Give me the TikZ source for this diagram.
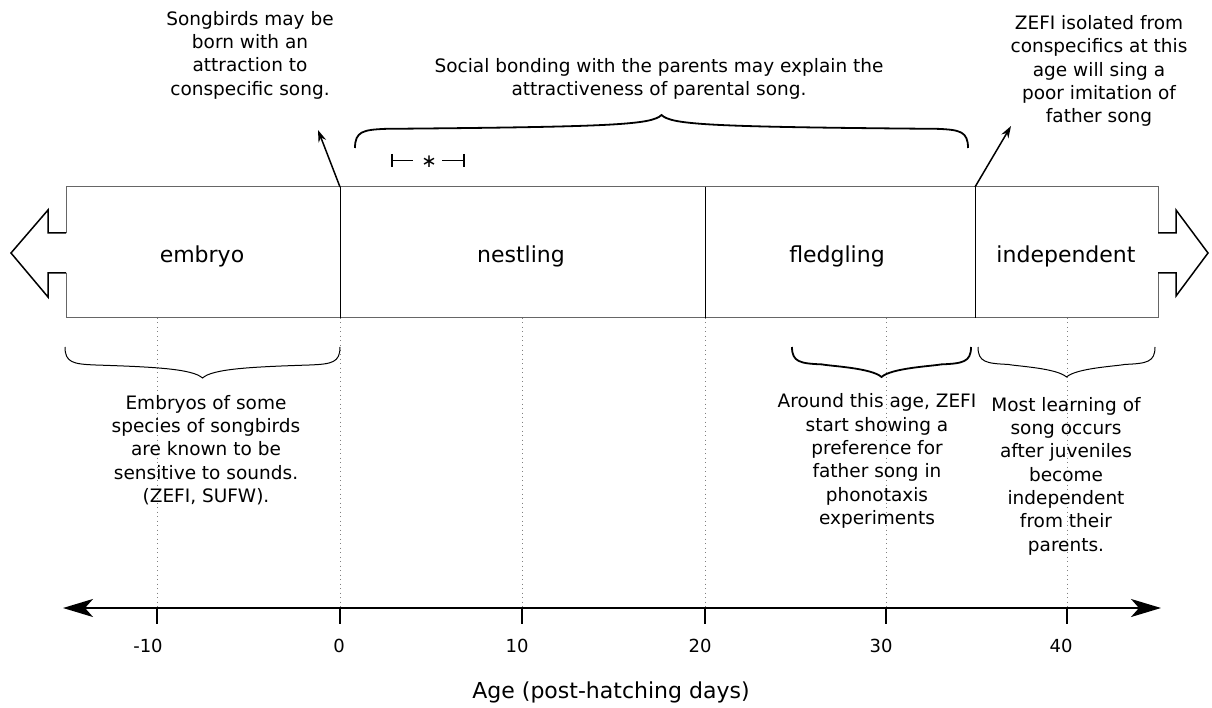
\documentclass[tikz,border=0pt]{standalone}
\usepackage{fontspec}
\setmainfont{DejaVu Sans}
\usetikzlibrary{arrows.meta,calc}

% curly brace: #1 style, #2 xa, #3 xb, #4 y of ends, #5 y of tip
\newcommand\cbrace[5][]{%
 \draw[#1] (#2,#4) .. controls (#2,{#4+0.5*(#5-#4)}) and ({#2+8},{#4+0.55*(#5-#4)}) .. ({#2+30},{#4+0.58*(#5-#4)})
   .. controls ({(#2+#3)/2-50},{#4+0.64*(#5-#4)}) and ({(#2+#3)/2-10},{#4+0.7*(#5-#4)}) .. ({(#2+#3)/2},#5)
   .. controls ({(#2+#3)/2+10},{#4+0.7*(#5-#4)}) and ({(#2+#3)/2+50},{#4+0.64*(#5-#4)}) .. ({#3-30},{#4+0.58*(#5-#4)})
   .. controls ({#3-8},{#4+0.55*(#5-#4)}) and (#3,{#4+0.5*(#5-#4)}) .. (#3,#4);}

\begin{document}
\begin{tikzpicture}[x=1pt,y=-1pt,
  stage/.style={rectangle, minimum height=131pt, inner sep=0pt, outer sep=0pt, fill=white},
  stagelbl/.style={font=\fontsize{22}{26}\selectfont, anchor=base, inner sep=0pt},
  ann/.style={font=\fontsize{18.5}{23.3}\selectfont, align=center, inner sep=0pt},
  num/.style={font=\fontsize{18}{22}\selectfont, inner sep=0pt},
  boxline/.style={draw=black!60, line width=1pt},
  divider/.style={draw=black, line width=1pt},
  arrowshape/.style={draw=black, line width=1.5pt},
  annarrow/.style={draw=black, line width=1.5pt, -{Stealth[length=12pt,width=8pt]}},
  bracethick/.style={draw=black, line width=1.8pt},
  bracethin/.style={draw=black, line width=1pt},
  axisline/.style={draw=black, line width=2pt, {Stealth[length=30pt,width=18pt,inset=8pt]}-{Stealth[length=30pt,width=18pt,inset=8pt]}},
  tickline/.style={draw=black, line width=2pt},
  guide/.style={draw=black!50, line width=1pt, dash pattern=on 1pt off 3.5pt},
  rangebar/.style={draw=black, line width=1.3pt}
]
\useasboundingbox[fill=white] (0,0) rectangle (1212,708);

% stage boxes
\node[stage, minimum width=274pt] (embryo) at (203,252.5) {};
\node[stage, minimum width=365pt] (nestling) at (522.5,252.5) {};
\node[stage, minimum width=270pt] (fledgling) at (840,252.5) {};
\node[stage, minimum width=183pt] (independent) at (1066.5,252.5) {};

% outline
\draw[boxline] (66,233) -- (66,187) -- (1158,187) -- (1158,233);
\draw[boxline] (1158,273) -- (1158,318) -- (66,318) -- (66,273);
\draw[arrowshape] (66,233) -- (48,233) -- (48,210) -- (11,253) -- (48,297) -- (48,273) -- (66,273);
\draw[arrowshape] (1158,233) -- (1176,233) -- (1176,210) -- (1208,253) -- (1176,296) -- (1176,273) -- (1158,273);

% dividers
\draw[divider] (embryo.north east) -- (embryo.south east);
\draw[divider] (nestling.north east) -- (nestling.south east);
\draw[divider] (fledgling.north east) -- (fledgling.south east);

% stage labels
\node[stagelbl] (lembryo) at (202,263) {embryo};
\node[stagelbl] (lnestling) at (521,263) {nestling};
\node[stagelbl] (lfledgling) at (837,263) {fledgling};
\node[stagelbl] (lindependent) at (1066,263) {independent};

% axis
\coordinate (axL) at (63,608);
\coordinate (axR) at (1161,608);
\foreach \i/\x/\lx/\v in {1/157/148/-10, 2/340/339/0, 3/522/517/10, 4/705/700/20, 5/886/881/30, 6/1067/1061/40}{
  \coordinate (t\i) at (\x,608);
  \draw[guide] (\x,318) -- (t\i);
  \draw[tickline] (t\i) -- ++(0,16);
  \node[num] (n\i) at (\lx,646) {\v};
}
\draw[axisline] (axL) -- (axR);
\node[font=\fontsize{22}{26}\selectfont, inner sep=0pt] (title) at (611,692) {Age (post-hatching days)};

% annotations top
\node[ann] (t0) at (250,55) {Songbirds may be\\born with an\\attraction to\\conspecific song.};
\coordinate (a0) at (318,130);
\draw[annarrow] (nestling.north west) -- (a0);

\node[ann] (tsocial) at (659,79) {Social bonding with the parents may explain the\\attractiveness of parental song.};
\cbrace[bracethick]{355}{968}{148}{115}

\node[ann] (tiso) at (1099,71) {ZEFI isolated from\\conspecifics at this\\age will sing a\\poor imitation of\\father song};
\coordinate (a35) at (1011,126);
\draw[annarrow] (fledgling.north east) -- (a35);

% small range bar
\coordinate (rb1) at (392,160.5);
\coordinate (rb2) at (413,160.5);
\coordinate (rb3) at (442,160.5);
\coordinate (rb4) at (464,160.5);
\node[font=\fontsize{18.5}{22}\selectfont, inner sep=0pt] (ast) at (429,162) {∗};
\draw[rangebar] (rb1) -- (rb2);
\draw[rangebar] (rb3) -- (rb4);
\draw[rangebar] ($(rb1)+(0,-6.5)$) -- ($(rb1)+(0,6.5)$);
\draw[rangebar] ($(rb4)+(0,-6.5)$) -- ($(rb4)+(0,6.5)$);

% annotations bottom
\cbrace[bracethin]{65}{340}{347}{378}
\node[ann] (temb) at (206,450) {Embryos of some\\species of songbirds\\are known to be\\sensitive to sounds.\\(ZEFI, SUFW).};

\cbrace[bracethick]{792}{971}{347}{377}
\node[ann] (tpref) at (877,461) {Around this age, ZEFI\\start showing a\\preference for\\father song in\\phonotaxis\\experiments};

\cbrace[bracethin]{978}{1155}{347}{377}
\node[ann] (tlearn) at (1066,476) {Most learning of\\song occurs\\after juveniles\\become\\independent\\from their\\parents.};
\end{tikzpicture}
\end{document}
